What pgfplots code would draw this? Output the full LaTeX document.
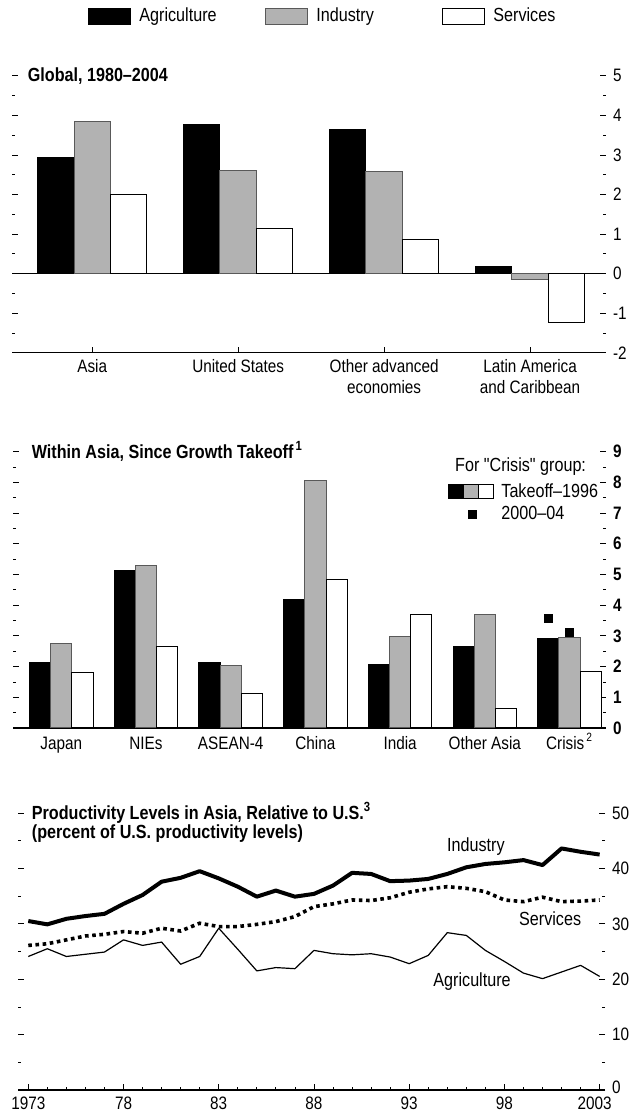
\documentclass[border=0pt]{standalone}
\usepackage{fontspec}
\setmainfont{Liberation Sans}[FakeStretch=0.85]
\usepackage{pgfplots}
\pgfplotsset{compat=1.18}

\definecolor{barfill}{gray}{0.70}
\definecolor{baredge}{gray}{0.35}

\newcommand{\lab}{\fontsize{9}{10.5}\selectfont}
\newcommand{\leg}{\fontsize{9.5}{11}\selectfont}
\newcommand{\ttl}{\fontsize{9.5}{11}\selectfont\bfseries}

\pgfplotsset{
  panel/.style={
    scale only axis, clip=false,
    axis line style={draw=none},
    tick align=inside,
    tick style={black, line width=0.4pt},
    major tick length=3pt, minor tick length=1.6pt,
    ytick pos=both, yticklabel pos=right,
    minor y tick num=1,
    tick label style={font=\lab},
    /pgf/number format/assume math mode=true,
  },
  agri/.style={fill=black, draw=black, line width=0.5pt},
  indu/.style={fill=barfill, draw=baredge, line width=0.5pt},
  serv/.style={fill=white, draw=black, line width=0.5pt},
  boxleg/.style={legend image code/.code={\draw[##1] (0pt,-4pt) rectangle (21pt,4pt);}},
  zeroline/.style={extra y ticks={#1}, extra y tick labels={},
    extra y tick style={grid=major, major grid style={black, line width=0.6pt}}},
}

\begin{document}
\begin{tikzpicture}
\useasboundingbox (0,0) rectangle (317pt,558pt);

% top panel: global
\begin{axis}[panel,
  at={(6pt,381.6pt)}, anchor=south west, width=297pt, height=138.5pt,
  xmin=-0.55, xmax=3.52, ymin=-2, ymax=5,
  xtick={0,1,2,3},
  xticklabels={Asia,United States,{Other advanced\\economies},{Latin America\\and Caribbean}},
  xticklabel style={align=center},
  xtick pos=left,
  ytick={-2,...,5},
  zeroline={-2,0},
  legend columns=3,
  legend cell align=left,
  legend style={at={(0.128,1.2155)}, anchor=west, draw=none, fill=none, inner sep=0pt,
    nodes={inner sep=0pt, font=\leg},
    /tikz/every odd column/.append style={column sep=4pt},
    /tikz/every even column/.append style={column sep=0pt}},
]
\addplot[ybar, agri, bar width=0.25, bar shift=-0.25, boxleg]
  coordinates {(0,2.94) (1,3.77) (2,3.64) (3,0.19)};
\addlegendentry{\makebox[63pt][l]{Agriculture}}
\addplot[ybar, indu, bar width=0.25, bar shift=0, boxleg]
  coordinates {(0,3.85) (1,2.60) (2,2.58) (3,-0.15)};
\addlegendentry{\makebox[63pt][l]{Industry}}
\addplot[ybar, serv, bar width=0.25, bar shift=0.25, boxleg]
  coordinates {(0,1.99) (1,1.14) (2,0.86) (3,-1.24)};
\addlegendentry{\makebox[63pt][l]{Services}}
\node[anchor=west, inner sep=0pt, font=\ttl] at (axis description cs:0.026,1) {Global, 1980--2004};
\end{axis}

% middle panel: within Asia
\begin{axis}[panel,
  at={(6.5pt,194pt)}, anchor=south west, width=296.5pt, height=138.2pt,
  xmin=-0.57, xmax=6.43, ymin=0, ymax=9,
  xtick={0,...,6},
  xticklabels={Japan,NIEs,ASEAN-4,China,India,Other Asia,Crisis\textsuperscript{\,2}},
  xticklabel style={text height=7pt, text depth=2pt},
  major x tick style={draw=none},
  ytick={0,...,9},
  yticklabel style={font=\lab\bfseries},
  zeroline={0},
  legend cell align=left,
  legend style={at={(0.7336,0.887)}, anchor=north west, draw=none, fill=none, inner sep=0pt,
    nodes={inner sep=0pt, font=\leg}, row sep=3pt,
    /tikz/every odd column/.append style={column sep=3.5pt}},
]
\addplot[ybar, agri, bar width=0.25, bar shift=-0.25, forget plot]
  coordinates {(0,2.14) (1,5.14) (2,2.12) (3,4.17) (4,2.06) (5,2.65) (6,2.90)};
\addplot[ybar, indu, bar width=0.25, bar shift=0, forget plot]
  coordinates {(0,2.74) (1,5.28) (2,2.03) (3,8.05) (4,2.99) (5,3.69) (6,2.94)};
\addplot[ybar, serv, bar width=0.25, bar shift=0.25, forget plot]
  coordinates {(0,1.81) (1,2.67) (2,1.11) (3,4.84) (4,3.71) (5,0.62) (6,1.85)};
\addlegendimage{legend image code/.code={
  \draw[fill=black, line width=0.5pt] (0pt,-3.5pt) rectangle (7.5pt,3.5pt);
  \draw[fill=barfill, line width=0.5pt] (7.5pt,-3.5pt) rectangle (15pt,3.5pt);
  \draw[fill=white, line width=0.5pt] (15pt,-3.5pt) rectangle (22.5pt,3.5pt);}}
\addlegendentry{Takeoff--1996}
\addplot[only marks, mark=square*, mark size=2pt, black,
  legend image code/.code={\fill[black] (9.5pt,-2pt) rectangle (13.5pt,2pt);}]
  coordinates {(5.75,3.57) (6,3.12)};
\addlegendentry{2000--04}
\node[anchor=west, inner sep=0pt, font=\ttl] at (axis description cs:0.031,1) {Within Asia, Since Growth Takeoff\textsuperscript{\,1}};
\node[anchor=west, inner sep=0pt, font=\leg] at (axis description cs:0.745,0.945) {\addfontfeature{Ligatures=TeXOff}For "Crisis" group:};
\end{axis}

% bottom panel: productivity levels
\begin{axis}[panel,
  at={(9pt,13pt)}, anchor=south west, width=293.5pt, height=138.5pt,
  xmin=1972.46, xmax=2003.28, ymin=0, ymax=50,
  xtick={1973,1978,...,2003},
  xticklabels={1973,78,83,88,93,98,2003\hspace*{5pt}},
  minor x tick num=4,
  xtick pos=left,
  ytick={0,10,...,50},
  yticklabels={\raisebox{2.5pt}{0},10,20,30,40,50},
  zeroline={0},
]
\addplot[black, line width=2pt, line join=round] coordinates {
  (1973,30.5) (1974,29.9) (1975,30.9) (1976,31.4) (1977,31.8) (1978,33.6)
  (1979,35.2) (1980,37.6) (1981,38.3) (1982,39.5) (1983,38.2) (1984,36.7)
  (1985,34.9) (1986,36.0) (1987,34.9) (1988,35.4) (1989,36.9) (1990,39.2)
  (1991,39.0) (1992,37.7) (1993,37.8) (1994,38.1) (1995,39.0) (1996,40.2)
  (1997,40.8) (1998,41.1) (1999,41.5) (2000,40.6) (2001,43.6) (2002,43.0)
  (2003,42.5)};
\addplot[black, line width=1.8pt, dash pattern=on 1.8pt off 1.8pt] coordinates {
  (1973,26.1) (1974,26.4) (1975,27.1) (1976,27.8) (1977,28.1) (1978,28.6)
  (1979,28.3) (1980,29.2) (1981,28.7) (1982,30.1) (1983,29.5) (1984,29.5)
  (1985,29.9) (1986,30.4) (1987,31.3) (1988,33.1) (1989,33.6) (1990,34.3)
  (1991,34.2) (1992,34.7) (1993,35.7) (1994,36.3) (1995,36.7) (1996,36.4)
  (1997,35.8) (1998,34.3) (1999,34.0) (2000,34.8) (2001,34.0) (2002,34.1)
  (2003,34.3)};
\addplot[black, line width=0.6pt, line join=round] coordinates {
  (1973,24.1) (1974,25.5) (1975,24.1) (1976,24.5) (1977,24.9) (1978,27.1)
  (1979,26.1) (1980,26.7) (1981,22.7) (1982,24.1) (1983,29.2) (1984,25.4)
  (1985,21.5) (1986,22.1) (1987,21.9) (1988,25.2) (1989,24.6) (1990,24.4)
  (1991,24.6) (1992,24.0) (1993,22.8) (1994,24.3) (1995,28.4) (1996,27.9)
  (1997,25.2) (1998,23.2) (1999,21.1) (2000,20.1) (2001,21.3) (2002,22.5)
  (2003,20.5)};
\node[font=\leg] at (axis cs:1996.5,43.9) {Industry};
\node[font=\leg] at (axis cs:2000.4,31.0) {Services};
\node[font=\leg] at (axis cs:1996.3,19.5) {Agriculture};
\node[anchor=west, inner sep=0pt, font=\ttl] at (axis description cs:0.023,1) {Productivity Levels in Asia, Relative to U.S.\textsuperscript{3}};
\node[anchor=west, inner sep=0pt, font=\ttl] at (axis description cs:0.023,0.925) {(percent of U.S. productivity levels)};
\end{axis}
\end{tikzpicture}
\end{document}
